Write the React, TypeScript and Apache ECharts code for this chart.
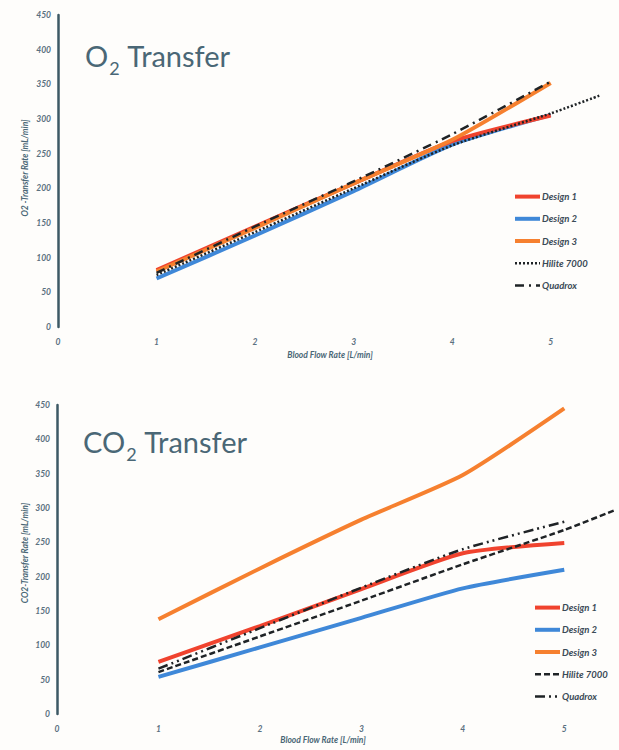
import React, { useEffect, useRef } from "react";
import * as echarts from "echarts";

// Blood flow rates (L/min)
const flowRates = [1, 2, 3, 4, 5];
const hiliteFlowRates = [1, 2, 3, 4, 5, 5.5];

// O2 transfer rate (mL/min)
const o2Design1 = [82, 145, 207, 268, 305];
const o2Design2 = [70, 132, 196, 263, 306];
const o2Design3 = [80, 143, 207, 270, 352];
const o2Hilite = [75, 137, 200, 262, 308, 334];
const o2Quadrox = [78, 145, 210, 278, 354];

// CO2 transfer rate (mL/min)
const co2Design1 = [76, 128, 182, 234, 249];
const co2Design2 = [54, 97, 140, 183, 210];
const co2Design3 = [138, 212, 283, 348, 445];
const co2Hilite = [61, 113, 165, 218, 268, 297];
const co2Quadrox = [66, 125, 184, 240, 280];

const seriesNames = ["Design 1", "Design 2", "Design 3", "Hilite 7000", "Quadrox"];
const yTicks = { min: 0, max: 450, interval: 50 };
const xRange = { min: 0, max: 5.5, interval: 1 };

const RED = "#f0432e";
const BLUE = "#3f88d8";
const ORANGE = "#f6802f";
const BLACK = "#1f2326";
const SLATE = "#4a6776";
const AXIS = "#3d5965";
const FONT = "Lato, 'Open Sans', sans-serif";

const zip = (xs: number[], ys: number[]) => ys.map((y, i) => [xs[i], y]);

function axisPair(gridIndex: number) {
  const labelStyle = {
    color: "#5a7080",
    fontSize: 8.5,
    fontStyle: "italic" as const,
    fontWeight: "bold" as const,
    fontFamily: FONT,
  };
  const x = {
    type: "value",
    gridIndex,
    min: xRange.min,
    max: xRange.max,
    interval: xRange.interval,
    axisLine: {
      show: true,
      onZero: false,
      lineStyle: {
        color: AXIS,
        width: 2.5,
        shadowColor: "rgba(240,140,90,0.55)",
        shadowOffsetY: -2,
        shadowBlur: 1,
      },
    },
    axisTick: { show: false },
    splitLine: { show: false },
    axisLabel: {
      ...labelStyle,
      margin: 10,
      formatter: (v: number) => (Number.isInteger(v) ? String(v) : ""),
    },
  };
  const y = {
    type: "value",
    gridIndex,
    min: yTicks.min,
    max: yTicks.max,
    interval: yTicks.interval,
    axisLine: { show: true, lineStyle: { color: AXIS, width: 2.5 } },
    axisTick: { show: false },
    splitLine: { show: false },
    axisLabel: { ...labelStyle, margin: 7 },
  };
  return { x, y };
}

function buildSeries(
  idx: number,
  d1: number[],
  d2: number[],
  d3: number[],
  hil: number[],
  quad: number[],
  hiliteType: any,
  quadType: any
) {
  const base = {
    type: "line",
    xAxisIndex: idx,
    yAxisIndex: idx,
    symbol: "none",
    smooth: 0.2,
    silent: true,
  };
  return [
    { ...base, name: seriesNames[1], data: zip(flowRates, d2), lineStyle: { color: BLUE, width: 4 }, itemStyle: { color: BLUE } },
    { ...base, name: seriesNames[0], data: zip(flowRates, d1), lineStyle: { color: RED, width: 4 }, itemStyle: { color: RED } },
    { ...base, name: seriesNames[2], data: zip(flowRates, d3), lineStyle: { color: ORANGE, width: 4 }, itemStyle: { color: ORANGE } },
    { ...base, name: seriesNames[3], data: zip(hiliteFlowRates, hil), lineStyle: { color: BLACK, width: 2.5, type: hiliteType }, itemStyle: { color: BLACK } },
    { ...base, name: seriesNames[4], data: zip(flowRates, quad), lineStyle: { color: BLACK, width: 2.5, type: quadType }, itemStyle: { color: BLACK } },
  ];
}

function legendFor(left: number, top: number, hiliteType: any, quadType: any) {
  const colors = [RED, BLUE, ORANGE, BLACK, BLACK];
  return {
    orient: "vertical",
    left,
    top,
    padding: 0,
    itemWidth: 25,
    itemHeight: 14,
    itemGap: 11,
    selectedMode: false,
    textStyle: {
      color: "#3a4a56",
      fontSize: 9.5,
      fontStyle: "italic",
      fontWeight: "bold",
      fontFamily: FONT,
      padding: [0, 0, 0, -3],
    },
    data: seriesNames.map((name, i) => ({
      name,
      itemStyle: { color: colors[i], opacity: 0, borderWidth: 0 },
      lineStyle: {
        color: colors[i],
        width: i < 3 ? 4 : 2.5,
        opacity: 1,
        type: i === 3 ? hiliteType : i === 4 ? quadType : "solid",
      },
    })),
  };
}

function titleText(left: number, top: number, prefix: string) {
  return {
    type: "text",
    left,
    top,
    style: {
      text: `{m|${prefix}}{s|2}{m| Transfer}`,
      rich: {
        m: { fontSize: 29, fontFamily: FONT, fill: SLATE, lineHeight: 34, verticalAlign: "bottom" },
        s: { fontSize: 18, fontFamily: FONT, fill: SLATE, lineHeight: 34, verticalAlign: "bottom", padding: [0, 1, -7, 1] },
      },
    },
  };
}

function smallText(x: number, y: number, text: string, rotation = 0) {
  return {
    type: "text",
    x,
    y,
    rotation,
    style: {
      text,
      fill: SLATE,
      fontSize: 8.5,
      fontStyle: "italic",
      fontWeight: "bold",
      fontFamily: FONT,
      align: "center",
      verticalAlign: "middle",
    },
  };
}

export default function App() {
  const ref = useRef<HTMLDivElement>(null);

  useEffect(() => {
    if (!ref.current) return;
    const chart = echarts.init(ref.current, undefined, { renderer: "svg" });
    const a0 = axisPair(0);
    const a1 = axisPair(1);
    const o2HiliteType = [2, 2];
    const o2QuadType = [9, 5, 2, 5];
    const co2HiliteType = [6, 3];
    const co2QuadType = [10, 4, 2, 4, 2, 4];

    chart.setOption({
      animation: false,
      backgroundColor: "#fefdfb",
      grid: [
        { left: 58, top: 15, width: 542, height: 312 },
        { left: 57, top: 405, width: 558, height: 309 },
      ],
      xAxis: [a0.x, a1.x],
      yAxis: [a0.y, a1.y],
      legend: [
        legendFor(513, 191, o2HiliteType, o2QuadType),
        legendFor(533, 602, co2HiliteType, co2QuadType),
      ],
      series: [
        ...buildSeries(0, o2Design1, o2Design2, o2Design3, o2Hilite, o2Quadrox, o2HiliteType, o2QuadType),
        ...buildSeries(1, co2Design1, co2Design2, co2Design3, co2Hilite, co2Quadrox, co2HiliteType, co2QuadType),
      ],
      graphic: [
        titleText(85, 41, "O"),
        titleText(83, 427, "CO"),
        smallText(25, 168, "O2 -Transfer Rate [mL/min]", Math.PI / 2),
        smallText(25, 553, "CO2-Transfer Rate [mL/min]", Math.PI / 2),
        smallText(330, 355, "Blood Flow Rate [L/min]"),
        smallText(323, 740, "Blood Flow Rate [L/min]"),
      ],
    });
    return () => chart.dispose();
  }, []);

  return (
    <div
      ref={ref}
      style={{ position: "fixed", left: 0, top: 0, width: 619, height: 750 }}
    />
  );
}
